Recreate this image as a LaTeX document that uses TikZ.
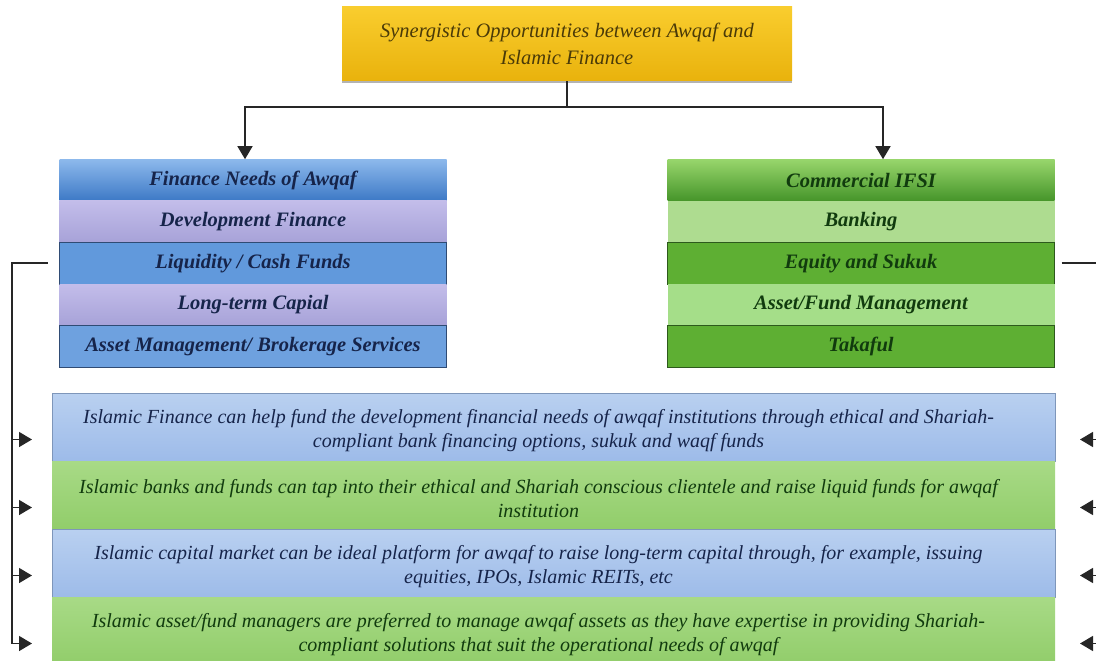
\documentclass[tikz,border=0pt]{standalone}
\usepackage{fontspec}
\setmainfont{Liberation Serif}
\usetikzlibrary{positioning,arrows.meta,shadows}

\definecolor{goldtop}{HTML}{F9CD2E}
\definecolor{goldbot}{HTML}{E9B20C}
\definecolor{goldtxt}{HTML}{4A3A08}
\definecolor{bluehd}{HTML}{8DB9EC}
\definecolor{bluehdb}{HTML}{3D79C6}
\definecolor{bluemid}{HTML}{6199DC}
\definecolor{lavtop}{HTML}{C3BDEA}
\definecolor{lavbot}{HTML}{A7A2D8}
\definecolor{bluetxt}{HTML}{16244A}
\definecolor{bluelin}{HTML}{2F4B74}
\definecolor{greenhd}{HTML}{98D66C}
\definecolor{greenhdb}{HTML}{46952A}
\definecolor{greendk}{HTML}{5EAF33}
\definecolor{greenlt}{HTML}{AEDC90}
\definecolor{greentxt}{HTML}{113B0E}
\definecolor{greenlin}{HTML}{2D5A1C}
\definecolor{infobt}{HTML}{B9D0F0}
\definecolor{infobb}{HTML}{9DBBE9}
\definecolor{infogt}{HTML}{A8DA86}
\definecolor{infogb}{HTML}{91CD6A}

\tikzset{
  row/.style={minimum width=387pt,minimum height=41.6pt,inner sep=0pt,outer sep=0pt,
    font=\bfseries\itshape\fontsize{20.5}{22}\selectfont},
  info/.style={minimum width=1003pt,minimum height=68pt,inner sep=0pt,outer sep=0pt},
  infotext/.style={align=center,inner sep=0pt,font=\itshape\fontsize{20}{24}\selectfont},
  link/.style={line width=1.5pt,black!85}
}

\begin{document}
\begin{tikzpicture}[x=1pt,y=1pt,>={Triangle[width=15pt,length=13pt]}]
\useasboundingbox (0,0) rectangle (1096,-661);
% top box
\node[minimum width=450pt,minimum height=74pt,inner sep=0pt,align=center,
  top color=goldtop,bottom color=goldbot,text=goldtxt,
  drop shadow={shadow xshift=0pt,shadow yshift=-2pt,opacity=.6},
  font=\itshape\fontsize{20.5}{27}\selectfont] (syn) at (567,-44)
  {Synergistic Opportunities between Awqaf and\\Islamic Finance};
% left column
\node[row,text=bluetxt,top color=bluehd,bottom color=bluehdb] (fna) at (253,-180) {Finance Needs of Awqaf};
\node[row,text=bluetxt,top color=lavtop,bottom color=lavbot,below=0pt of fna] (dev) {Development Finance};
\node[row,text=bluetxt,fill=bluemid,draw=bluelin,below=0pt of dev] (liq) {Liquidity / Cash Funds};
\node[row,text=bluetxt,top color=lavtop,bottom color=lavbot,below=0pt of liq] (ltc) {Long-term Capial};
\node[row,text=bluetxt,fill=bluemid!92!white,draw=bluelin,below=0pt of ltc] (amb) {Asset Management/ Brokerage Services};
% right column
\node[row,text=greentxt,top color=greenhd,bottom color=greenhdb] (cif) at (861,-180) {Commercial IFSI};
\node[row,text=greentxt,fill=greenlt,below=0pt of cif] (bnk) {Banking};
\node[row,text=greentxt,fill=greendk,draw=greenlin,below=0pt of bnk] (eqs) {Equity and Sukuk};
\node[row,text=greentxt,fill=greenlt!95!green,below=0pt of eqs] (afm) {Asset/Fund Management};
\node[row,text=greentxt,fill=greendk,draw=greenlin,below=0pt of afm] (tkf) {Takaful};
% bottom boxes
\node[info,top color=infobt,bottom color=infobb,draw=infobb!80!black] (b1) at (553.5,-427.5) {};
\node[info,top color=infogt,bottom color=infogb,below=0pt of b1] (b2) {};
\node[info,top color=infobt,bottom color=infobb,draw=infobb!80!black,below=0pt of b2] (b3) {};
\node[info,top color=infogt,bottom color=infogb,below=0pt of b3] (b4) {};
\node[infotext,text=bluetxt] (t1) at ([shift={(-15pt,-3pt)}]b1.center)
  {Islamic Finance can help fund the development financial needs of awqaf institutions through ethical and Shariah-\\compliant bank financing options, sukuk and waqf funds};
\node[infotext,text=greentxt] (t2) at ([shift={(-15pt,-3pt)}]b2.center)
  {Islamic banks and funds can tap into their ethical and Shariah conscious clientele and raise liquid funds for awqaf\\institution};
\node[infotext,text=bluetxt] (t3) at ([shift={(-15pt,-3pt)}]b3.center)
  {Islamic capital market can be ideal platform for awqaf to raise long-term capital through, for example, issuing\\equities, IPOs, Islamic REITs, etc};
\node[infotext,text=greentxt] (t4) at ([shift={(-15pt,-3pt)}]b4.center)
  {Islamic asset/fund managers are preferred to manage awqaf assets as they have expertise in providing Shariah-\\compliant solutions that suit the operational needs of awqaf};
% connectors
\coordinate (split) at ([yshift=-26pt]syn.south);
\draw[link] (syn.south)--(split);
\draw[link,->] (split)-|([xshift=-8pt]fna.north);
\draw[link,->] (split)-|([xshift=22pt]cif.north);
\coordinate (lbus) at ([xshift=-12pt]liq.west);
\coordinate (rbus) at ([xshift=7pt]eqs.east);
\draw[link,->] (lbus)-|([shift={(-40pt,-12pt)}]b4.west)--([shift={(-20pt,-12pt)}]b4.west);
\foreach \b in {b1,b2,b3}
  \draw[link,->] ([shift={(-40pt,-12pt)}]\b.west)--([shift={(-20pt,-12pt)}]\b.west);
\draw[link] (rbus)-|([shift={(60pt,-12pt)}]b4.east);
\foreach \b in {b1,b2,b3,b4}
  \draw[link,->] ([shift={(60pt,-12pt)}]\b.east)--([shift={(25pt,-12pt)}]\b.east);
\end{tikzpicture}
\end{document}
